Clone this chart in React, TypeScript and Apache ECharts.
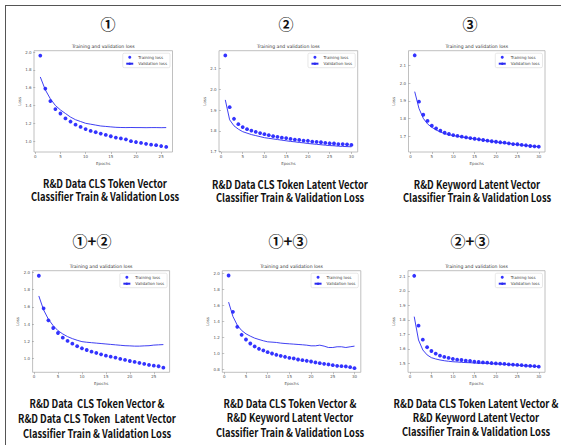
import React, { useEffect, useRef } from "react";
import * as echarts from "echarts";

// ---------- data ----------
const trainLoss1 = [1.96, 1.59, 1.45, 1.36, 1.31, 1.255, 1.22, 1.185, 1.16, 1.135, 1.115, 1.1, 1.085, 1.07, 1.055, 1.04, 1.03, 1.02, 1.0, 0.99, 0.98, 0.97, 0.96, 0.955, 0.945, 0.935];
const valLoss1 = [1.72, 1.575, 1.475, 1.4, 1.35, 1.31, 1.27, 1.24, 1.22, 1.2, 1.19, 1.18, 1.17, 1.165, 1.16, 1.155, 1.153, 1.152, 1.153, 1.152, 1.152, 1.151, 1.152, 1.152, 1.151, 1.152];

const trainLoss2 = [2.163, 1.914, 1.858, 1.832, 1.818, 1.808, 1.801, 1.795, 1.789, 1.784, 1.779, 1.774, 1.771, 1.767, 1.765, 1.761, 1.758, 1.756, 1.753, 1.752, 1.748, 1.747, 1.745, 1.742, 1.74, 1.739, 1.736, 1.736, 1.735, 1.732];
const valLoss2 = [1.949, 1.853, 1.824, 1.808, 1.796, 1.789, 1.782, 1.777, 1.772, 1.767, 1.764, 1.761, 1.758, 1.755, 1.752, 1.749, 1.747, 1.744, 1.742, 1.739, 1.737, 1.735, 1.733, 1.731, 1.729, 1.728, 1.726, 1.725, 1.724, 1.723];

const trainLoss3 = [2.159, 1.896, 1.822, 1.787, 1.76, 1.745, 1.732, 1.72, 1.713, 1.707, 1.702, 1.698, 1.694, 1.69, 1.686, 1.683, 1.679, 1.675, 1.672, 1.669, 1.666, 1.664, 1.66, 1.656, 1.655, 1.651, 1.649, 1.645, 1.643, 1.641];
const valLoss3 = [1.953, 1.858, 1.802, 1.77, 1.751, 1.736, 1.724, 1.715, 1.709, 1.704, 1.7, 1.696, 1.692, 1.689, 1.685, 1.682, 1.678, 1.675, 1.671, 1.668, 1.665, 1.662, 1.659, 1.656, 1.653, 1.65, 1.648, 1.645, 1.643, 1.64];

const trainLoss4 = [1.96, 1.583, 1.444, 1.355, 1.297, 1.243, 1.205, 1.174, 1.144, 1.12, 1.1, 1.081, 1.066, 1.05, 1.035, 1.023, 1.012, 0.997, 0.985, 0.973, 0.962, 0.95, 0.939, 0.927, 0.919, 0.912, 0.896];
const valLoss4 = [1.726, 1.564, 1.456, 1.382, 1.324, 1.286, 1.255, 1.232, 1.213, 1.197, 1.19, 1.185, 1.18, 1.175, 1.17, 1.165, 1.16, 1.155, 1.15, 1.148, 1.145, 1.145, 1.148, 1.15, 1.157, 1.16, 1.163];

const trainLoss5 = [1.975, 1.521, 1.334, 1.234, 1.175, 1.125, 1.088, 1.059, 1.038, 1.017, 1.0, 0.984, 0.971, 0.959, 0.946, 0.938, 0.925, 0.917, 0.909, 0.9, 0.888, 0.879, 0.871, 0.863, 0.854, 0.846, 0.842, 0.838, 0.829, 0.817];
const valLoss5 = [1.642, 1.463, 1.354, 1.288, 1.246, 1.217, 1.192, 1.175, 1.159, 1.146, 1.142, 1.138, 1.13, 1.125, 1.121, 1.117, 1.113, 1.109, 1.104, 1.096, 1.096, 1.104, 1.092, 1.075, 1.075, 1.084, 1.084, 1.075, 1.084, 1.092];

const trainLoss6 = [2.105, 1.761, 1.664, 1.612, 1.586, 1.568, 1.554, 1.545, 1.538, 1.531, 1.526, 1.524, 1.519, 1.517, 1.512, 1.51, 1.508, 1.506, 1.503, 1.501, 1.499, 1.497, 1.494, 1.492, 1.49, 1.488, 1.485, 1.483, 1.482, 1.478];
const valLoss6 = [1.823, 1.662, 1.593, 1.559, 1.54, 1.531, 1.524, 1.519, 1.515, 1.512, 1.51, 1.508, 1.506, 1.505, 1.503, 1.502, 1.501, 1.5, 1.498, 1.497, 1.495, 1.494, 1.492, 1.49, 1.488, 1.486, 1.484, 1.482, 1.48, 1.478];

const xTicks25 = [0, 5, 10, 15, 20, 25];
const xTicks30 = [0, 5, 10, 15, 20, 25, 30];
const yTicksA = [1.0, 1.2, 1.4, 1.6, 1.8, 2.0];
const yTicksB = [1.7, 1.8, 1.9, 2.0, 2.1];
const yTicksC = [0.8, 1.0, 1.2, 1.4, 1.6, 1.8, 2.0];
const yTicksD = [1.5, 1.6, 1.7, 1.8, 1.9, 2.0, 2.1];

const headers = ["①", "②", "③", "①+②", "①+③", "②+③"];
const captions = [
  ["R&D Data CLS Token Vector", "Classifier Train & Validation Loss"],
  ["R&D Data CLS Token Latent Vector", "Classifier Train & Validation Loss"],
  ["R&D Keyword Latent Vector", "Classifier Train & Validation Loss"],
  ["R&D Data  CLS Token Vector &", "R&D Data CLS Token  Latent Vector", "Classifier Train & Validation Loss"],
  ["R&D Data CLS Token Vector &", "R&D Keyword Latent Vector", "Classifier Train & Validation Loss"],
  ["R&D Data CLS Token Latent Vector &", "R&D Keyword Latent Vector", "Classifier Train & Validation Loss"],
];
const plotTitle = "Training and validation loss";
const trainName = "Training loss";
const valName = "Validation loss";

// ---------- layout ----------
const W = 561;
const H = 445;
const panels = [
  { train: trainLoss1, val: valLoss1, xr: [-0.25, 27.25], yr: [0.878, 2.015], xt: xTicks25, yt: yTicksA, g: [34, 50.7, 138.5, 101.3], hx: 108, hy: 23, cx: 105, cy: [183.3, 196.6] },
  { train: trainLoss2, val: valLoss2, xr: [-0.45, 31.45], yr: [1.698, 2.186], xt: xTicks30, yt: yTicksB, g: [219, 50.7, 138.7, 101.3], hx: 286, hy: 23, cx: 290, cy: [184, 197.3] },
  { train: trainLoss3, val: valLoss3, xr: [-0.45, 31.45], yr: [1.611, 2.185], xt: xTicks30, yt: yTicksB, g: [408.5, 50.7, 136.5, 101.3], hx: 470, hy: 23, cx: 477, cy: [184, 197.3] },
  { train: trainLoss4, val: valLoss4, xr: [-0.3, 28.3], yr: [0.842, 2.0185], xt: xTicks25, yt: yTicksA, g: [32.6, 270.7, 137, 101.6], hx: 92, hy: 240, cx: 97, cy: [402.7, 417.7, 432.7] },
  { train: trainLoss5, val: valLoss5, xr: [-0.45, 31.45], yr: [0.765, 2.035], xt: xTicks30, yt: yTicksC, g: [222.3, 270.7, 138.5, 101.6], hx: 288, hy: 240, cx: 290, cy: [402.7, 417.2, 431.7] },
  { train: trainLoss6, val: valLoss6, xr: [-0.45, 31.45], yr: [1.439, 2.14], xt: xTicks30, yt: yTicksD, g: [408, 270.7, 137, 101.6], hx: 470, hy: 240, cx: 476, cy: [402.7, 416.7, 430.7] },
];

const BLUE = "#0000ff";
const TICK_FONT = "DejaVu Sans";

export default function App() {
  const ref = useRef<HTMLDivElement>(null);

  useEffect(() => {
    if (!ref.current) return;
    const chart = echarts.init(ref.current, undefined, { renderer: "svg" });

    const grid: any[] = [];
    const xAxis: any[] = [];
    const yAxis: any[] = [];
    const series: any[] = [];
    const legend: any[] = [];
    const graphic: any[] = [];

    panels.forEach((p, i) => {
      const [l, t, w, h] = p.g;
      grid.push({ left: l, top: t, width: w, height: h, show: true, borderColor: "#b0b0b0", borderWidth: 0.8, backgroundColor: "#fff", containLabel: false });
      xAxis.push({
        type: "value", gridIndex: i, min: p.xr[0], max: p.xr[1],
        name: "Epochs", nameLocation: "middle", nameGap: 9,
        nameTextStyle: { fontSize: 4, color: "#555", fontFamily: TICK_FONT },
        axisLine: { show: false }, splitLine: { show: false },
        axisTick: { show: true, inside: false, length: 2, lineStyle: { color: "#888", width: 0.5 }, customValues: p.xt },
        axisLabel: { fontSize: 4, color: "#555", margin: 2.5, fontFamily: TICK_FONT, customValues: p.xt, formatter: (v: number) => String(Math.round(v)) },
      });
      yAxis.push({
        type: "value", gridIndex: i, min: p.yr[0], max: p.yr[1],
        name: "Loss", nameLocation: "middle", nameGap: 10, nameRotate: 90,
        nameTextStyle: { fontSize: 4, color: "#555", fontFamily: TICK_FONT },
        axisLine: { show: false }, splitLine: { show: false },
        axisTick: { show: true, inside: false, length: 2, lineStyle: { color: "#888", width: 0.5 }, customValues: p.yt },
        axisLabel: { fontSize: 4, color: "#555", margin: 2.5, fontFamily: TICK_FONT, customValues: p.yt, formatter: (v: number) => v.toFixed(1) },
      });
      series.push({
        type: "scatter", name: trainName, xAxisIndex: i, yAxisIndex: i,
        data: p.train.map((v, k) => [k + 1, v]),
        symbol: "circle", symbolSize: 3.8, itemStyle: { color: BLUE }, silent: true,
      });
      series.push({
        type: "line", name: valName, xAxisIndex: i, yAxisIndex: i,
        data: p.val.map((v, k) => [k + 1, v]),
        symbol: "none", showSymbol: false, lineStyle: { color: "#2a2af0", width: 0.9 }, itemStyle: { color: "#2a2af0" }, silent: true,
      });
      legend.push({
        orient: "vertical", right: W - (l + w - 2.5), top: t + 2.5,
        data: [{ name: trainName, icon: "circle" }, { name: valName }],
        itemWidth: 7, itemHeight: 3, itemGap: 2.5,
        padding: [2, 3, 2, 2.5], borderColor: "#d0d0d0", borderWidth: 0.5, borderRadius: 1.5,
        backgroundColor: "#fff", selectedMode: false,
        textStyle: { fontSize: 4, color: "#444", fontFamily: TICK_FONT },
      });
      graphic.push({
        type: "text", x: l + w / 2, y: t - 4,
        style: { text: plotTitle, fontSize: 4.6, fill: "#333", fontFamily: TICK_FONT, align: "center", verticalAlign: "middle" },
      });
      graphic.push({
        type: "text", x: p.hx, y: p.hy,
        style: { text: headers[i], fontSize: 15, fontWeight: "bold", fill: "#111", fontFamily: "Noto Sans CJK KR", align: "center", verticalAlign: "middle" },
      });
      captions[i].forEach((line, k) => {
        graphic.push({
          type: "text", x: p.cx, y: p.cy[k], scaleX: 0.85,
          style: { text: line, fontSize: 11, fontWeight: "bold", fill: "#111", fontFamily: "Noto Sans CJK KR", align: "center", verticalAlign: "middle" },
        });
      });
    });

    // outer frame (top and left edges visible)
    graphic.push({ type: "line", shape: { x1: 5, y1: 5.5, x2: W, y2: 5.5 }, style: { stroke: "#555", lineWidth: 1 } });
    graphic.push({ type: "line", shape: { x1: 5.5, y1: 5, x2: 5.5, y2: H }, style: { stroke: "#555", lineWidth: 1 } });

    chart.setOption({
      animation: false,
      backgroundColor: "#fff",
      grid, xAxis, yAxis, series, legend, graphic,
    });

    return () => chart.dispose();
  }, []);

  return <div ref={ref} style={{ position: "absolute", left: 0, top: 0, width: W, height: H }} />;
}
